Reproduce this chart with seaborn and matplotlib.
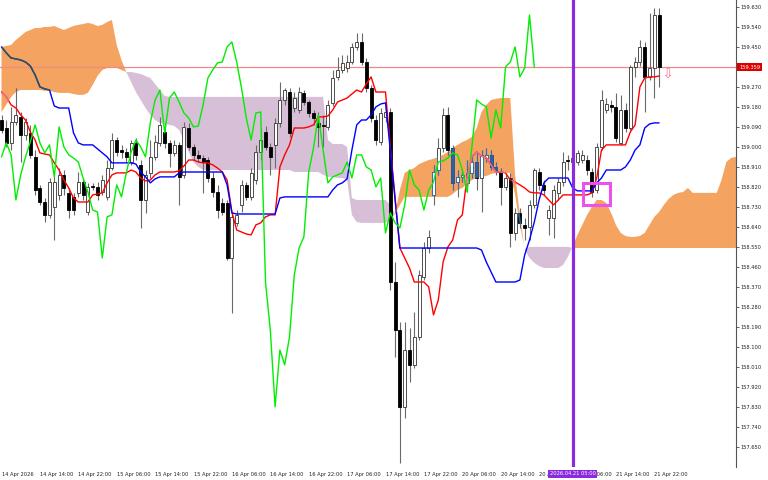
import numpy as np
import matplotlib
matplotlib.use("Agg")
import matplotlib.pyplot as plt
import matplotlib.transforms as mtransforms
from matplotlib.path import Path
from matplotlib.patches import PathPatch, Rectangle
import seaborn as sns

# USDJPY H1 candles, 14 Apr 06:00 -> 21 Apr 23:00 (bar index 0..137)
opens = [159.122, 159.086, 159.019, 159.113, 159.136, 159.055, 159.064, 158.956, 158.816, 158.753,
         158.695, 158.731, 158.785, 158.875, 158.794, 158.776, 158.794, 158.843, 158.708, 158.825,
         158.821, 158.798, 158.776, 158.906, 159.032, 158.987, 158.978, 158.933, 159.019, 158.920,
         158.762, 158.884, 158.956, 159.019, 159.068, 159.019, 158.974, 159.010, 158.875, 159.086,
         159.001, 158.965, 158.951, 158.942, 158.861, 158.798, 158.749, 158.749, 158.501, 158.659,
         158.740, 158.830, 158.776, 158.852, 158.978, 159.068, 159.001, 159.010, 159.109, 159.212,
         159.248, 159.176, 159.167, 159.244, 159.203, 159.154, 159.109, 159.100, 159.091, 159.199,
         159.316, 159.347, 159.356, 159.383, 159.451, 159.473, 159.383, 159.266, 159.122, 159.023,
         159.136, 159.158, 158.393, 158.177, 157.831, 158.087, 158.020, 158.146, 158.416, 158.546,
         158.785, 158.897, 158.996, 159.145, 158.996, 158.843, 158.866, 158.839, 158.884, 158.933,
         158.861, 158.951, 158.965, 158.911, 158.888, 158.821, 158.861, 158.614, 158.704, 158.650,
         158.641, 158.740, 158.888, 158.830, 158.681, 158.681, 158.794, 158.843, 158.942, 158.933,
         158.933, 158.942, 158.942, 158.888, 158.807, 159.001, 159.167, 159.190, 159.181, 159.019,
         159.167, 159.086, 159.361, 159.383, 159.451, 159.316, 159.356, 159.595]
highs = [159.145, 159.122, 159.181, 159.266, 159.158, 159.131, 159.100, 158.987, 158.830, 158.771,
         158.861, 158.875, 158.906, 158.897, 158.816, 158.794, 158.888, 158.861, 158.839, 158.839,
         158.843, 158.875, 158.942, 159.064, 159.046, 159.010, 158.996, 159.032, 159.041, 158.942,
         158.897, 159.032, 159.055, 159.136, 159.109, 159.032, 159.032, 159.023, 159.113, 159.109,
         159.014, 158.987, 158.965, 158.956, 158.888, 158.830, 158.771, 158.762, 158.708, 158.717,
         158.852, 158.843, 158.906, 159.010, 159.086, 159.095, 159.019, 159.131, 159.293, 159.266,
         159.266, 159.248, 159.271, 159.257, 159.212, 159.167, 159.158, 159.145, 159.212, 159.347,
         159.406, 159.415, 159.415, 159.469, 159.514, 159.514, 159.401, 159.280, 159.145, 159.176,
         159.185, 159.176, 158.483, 158.213, 158.213, 158.186, 158.258, 158.447, 158.573, 158.627,
         158.920, 159.041, 159.176, 159.181, 159.010, 158.897, 158.897, 158.942, 158.965, 158.974,
         158.987, 158.996, 158.987, 158.933, 158.906, 158.879, 158.884, 158.726, 158.726, 158.681,
         158.762, 158.906, 158.906, 158.852, 158.740, 158.830, 158.861, 158.978, 158.965, 158.974,
         158.987, 158.987, 158.965, 158.906, 159.019, 159.257, 159.221, 159.212, 159.244, 159.235,
         159.199, 159.370, 159.406, 159.482, 159.473, 159.604, 159.626, 159.626]
lows = [159.064, 159.001, 158.987, 159.100, 158.933, 159.032, 158.951, 158.785, 158.740, 158.663,
        158.681, 158.582, 158.762, 158.785, 158.681, 158.695, 158.776, 158.762, 158.695, 158.807,
        158.762, 158.785, 158.762, 158.897, 158.960, 158.951, 158.933, 158.920, 158.942, 158.636,
        158.704, 158.861, 158.942, 159.005, 158.996, 158.911, 158.960, 158.740, 158.861, 158.987,
        158.942, 158.933, 158.794, 158.843, 158.776, 158.681, 158.695, 158.492, 158.254, 158.645,
        158.708, 158.762, 158.762, 158.834, 158.942, 158.987, 158.875, 158.906, 159.091, 159.190,
        159.046, 159.158, 159.154, 159.190, 159.136, 159.100, 159.001, 159.001, 159.077, 159.185,
        159.302, 159.334, 159.338, 159.374, 159.437, 159.370, 159.248, 159.113, 159.010, 159.010,
        159.113, 158.357, 158.056, 157.579, 157.781, 157.943, 158.006, 158.132, 158.402, 158.524,
        158.740, 158.875, 158.978, 158.965, 158.807, 158.776, 158.843, 158.798, 158.861, 158.807,
        158.708, 158.933, 158.897, 158.875, 158.740, 158.807, 158.551, 158.582, 158.636, 158.582,
        158.582, 158.726, 158.807, 158.785, 158.605, 158.591, 158.762, 158.825, 158.897, 158.906,
        158.920, 158.929, 158.875, 158.776, 158.794, 158.987, 159.154, 159.158, 159.023, 159.010,
        159.068, 159.077, 159.316, 159.365, 159.158, 159.302, 159.221, 159.271]
closes = [159.077, 159.019, 159.113, 159.145, 159.055, 159.113, 158.965, 158.807, 158.753, 158.695,
          158.843, 158.843, 158.875, 158.816, 158.717, 158.717, 158.843, 158.785, 158.821, 158.821,
          158.785, 158.852, 158.906, 159.032, 158.978, 158.978, 158.956, 159.019, 158.965, 158.762,
          158.875, 158.956, 159.023, 159.100, 159.019, 158.974, 159.010, 158.866, 159.091, 159.001,
          158.965, 158.951, 158.933, 158.861, 158.798, 158.717, 158.708, 158.501, 158.686, 158.695,
          158.830, 158.776, 158.884, 158.978, 159.032, 159.001, 158.956, 159.109, 159.212, 159.257,
          159.064, 159.221, 159.248, 159.203, 159.154, 159.131, 159.091, 159.095, 159.190, 159.311,
          159.347, 159.379, 159.383, 159.451, 159.473, 159.383, 159.266, 159.131, 159.032, 159.154,
          159.158, 158.393, 158.177, 157.831, 158.087, 158.020, 158.146, 158.425, 158.546, 158.596,
          158.888, 158.996, 159.145, 158.987, 158.839, 158.866, 158.875, 158.884, 158.933, 158.861,
          158.965, 158.965, 158.911, 158.897, 158.821, 158.861, 158.614, 158.704, 158.659, 158.636,
          158.740, 158.897, 158.830, 158.807, 158.717, 158.807, 158.843, 158.933, 158.938, 158.951,
          158.974, 158.965, 158.897, 158.798, 159.001, 159.212, 159.194, 159.181, 159.041, 159.167,
          159.086, 159.361, 159.383, 159.451, 159.316, 159.356, 159.595, 159.359]

# Ichimoku lines
tenkan = [159.248, 159.226, 159.190, 159.176, 159.145, 159.122, 159.068, 159.032, 158.974, 158.969,
          158.965, 158.929, 158.897, 158.852, 158.816, 158.771, 158.753, 158.753, 158.753, 158.785,
          158.789, 158.794, 158.839, 158.875, 158.884, 158.884, 158.884, 158.897, 158.888, 158.861,
          158.848, 158.852, 158.875, 158.888, 158.888, 158.888, 158.888, 158.893, 158.915, 158.942,
          158.942, 158.933, 158.929, 158.929, 158.920, 158.906, 158.888, 158.852, 158.708, 158.627,
          158.618, 158.609, 158.605, 158.650, 158.659, 158.686, 158.695, 158.695, 158.911, 158.965,
          159.010, 159.086, 159.086, 159.086, 159.091, 159.100, 159.136, 159.136, 159.140, 159.167,
          159.203, 159.212, 159.221, 159.239, 159.257, 159.248, 159.284, 159.316, 159.248, 159.248,
          159.248, 159.001, 158.771, 158.546, 158.501, 158.456, 158.393, 158.393, 158.393, 158.371,
          158.245, 158.312, 158.483, 158.551, 158.582, 158.672, 158.695, 158.866, 158.956, 158.978,
          158.960, 158.951, 158.920, 158.888, 158.888, 158.884, 158.852, 158.843, 158.830, 158.816,
          158.798, 158.794, 158.794, 158.785, 158.762, 158.740, 158.762, 158.785, 158.785, 158.785,
          158.785, 158.785, 158.785, 158.794, 158.861, 158.987, 159.010, 159.010, 159.010, 159.010,
          159.010, 159.068, 159.100, 159.271, 159.311, 159.316, 159.316, 159.320]
kijun = [159.451, 159.424, 159.401, 159.397, 159.392, 159.383, 159.365, 159.325, 159.271, 159.262,
         159.257, 159.185, 159.176, 159.176, 159.176, 159.064, 159.019, 159.010, 159.010, 159.010,
         158.992, 158.974, 158.956, 158.929, 158.929, 158.929, 158.929, 158.929, 158.924, 158.888,
         158.866, 158.839, 158.857, 158.866, 158.866, 158.866, 158.866, 158.884, 158.888, 158.888,
         158.888, 158.888, 158.888, 158.888, 158.888, 158.888, 158.888, 158.830, 158.704, 158.699,
         158.699, 158.699, 158.699, 158.699, 158.699, 158.699, 158.699, 158.699, 158.771, 158.776,
         158.776, 158.776, 158.776, 158.776, 158.776, 158.776, 158.776, 158.776, 158.776, 158.807,
         158.830, 158.839, 158.857, 158.987, 159.100, 159.122, 159.122, 159.145, 159.181, 159.194,
         159.199, 158.987, 158.762, 158.546, 158.546, 158.546, 158.546, 158.546, 158.546, 158.546,
         158.546, 158.546, 158.546, 158.546, 158.546, 158.546, 158.546, 158.546, 158.546, 158.546,
         158.537, 158.483, 158.438, 158.393, 158.393, 158.393, 158.393, 158.393, 158.402, 158.515,
         158.582, 158.663, 158.762, 158.839, 158.861, 158.861, 158.861, 158.861, 158.861, 158.816,
         158.803, 158.803, 158.803, 158.803, 158.839, 158.861, 158.897, 158.897, 158.897, 158.897,
         158.911, 158.942, 158.987, 159.010, 159.086, 159.104, 159.109, 159.109]
# senkou spans, already shifted 26 bars forward (bar index 0..154)
span_a = [159.451, 159.455, 159.460, 159.482, 159.500, 159.518, 159.527, 159.536, 159.536, 159.541,
          159.541, 159.545, 159.536, 159.527, 159.536, 159.545, 159.550, 159.554, 159.559, 159.554,
          159.545, 159.550, 159.563, 159.572, 159.460, 159.392, 159.338, 159.293, 159.248, 159.212,
          159.176, 159.145, 159.122, 159.109, 159.104, 159.100, 159.095, 159.077, 159.032, 158.978,
          158.933, 158.911, 158.897, 158.897, 158.897, 158.897, 158.897, 158.897, 158.897, 158.897,
          158.897, 158.897, 158.897, 158.897, 158.897, 158.897, 158.897, 158.897, 158.897, 158.897,
          158.897, 158.888, 158.888, 158.888, 158.888, 158.888, 158.888, 158.875, 158.866, 158.866,
          158.861, 158.861, 158.852, 158.695, 158.663, 158.659, 158.659, 158.659, 158.659, 158.659,
          158.659, 158.672, 158.699, 158.807, 158.884, 158.897, 158.906, 158.924, 158.933, 158.942,
          158.947, 158.956, 158.965, 158.978, 158.996, 159.010, 159.023, 159.032, 159.046, 159.086,
          159.158, 159.190, 159.212, 159.217, 159.221, 159.221, 159.221, 158.875, 158.695, 158.537,
          158.501, 158.479, 158.465, 158.456, 158.456, 158.456, 158.456, 158.470, 158.506, 158.555,
          158.605, 158.650, 158.695, 158.731, 158.762, 158.762, 158.749, 158.704, 158.650, 158.614,
          158.600, 158.596, 158.596, 158.600, 158.614, 158.650, 158.686, 158.708, 158.740, 158.767,
          158.785, 158.794, 158.798, 158.816, 158.794, 158.794, 158.794, 158.794, 158.794, 158.794,
          158.852, 158.933, 158.951, 158.956, 158.956]
span_b = [159.158, 159.190, 159.226, 159.248, 159.257, 159.257, 159.257, 159.257, 159.257, 159.253,
          159.253, 159.248, 159.244, 159.244, 159.244, 159.239, 159.235, 159.235, 159.244, 159.280,
          159.320, 159.347, 159.356, 159.361, 159.356, 159.347, 159.338, 159.338, 159.334, 159.329,
          159.320, 159.311, 159.284, 159.257, 159.230] + [159.226] * 33 + [
          159.032, 159.014, 159.014, 159.014, 159.001, 158.771, 158.762, 158.762, 158.762, 158.762,
          158.762, 158.762, 158.762, 158.740, 158.699, 158.740, 158.776, 158.776, 158.776, 158.776,
          158.776, 158.776, 158.776, 158.776, 158.776, 158.776, 158.789, 158.807, 158.816, 158.834,
          158.852, 158.861, 158.866, 158.870, 158.879, 158.884, 158.884, 158.884, 158.884, 158.785,
          158.650, 158.542] + [158.551] * 9 + [158.546] * 36

y_ticks = [159.630, 159.540, 159.450, 159.270, 159.180, 159.090, 159.000, 158.910, 158.820, 158.730,
           158.640, 158.550, 158.460, 158.370, 158.280, 158.190, 158.100, 158.010, 157.920, 157.830,
           157.740, 157.650]
x_ticks = [0, 8, 16, 24, 32, 40, 48, 56, 64, 72, 80, 88, 96, 104, 112, 120, 128, 136]
x_labels = ['14 Apr 2026', '14 Apr 14:00', '14 Apr 22:00', '15 Apr 06:00', '15 Apr 14:00',
            '15 Apr 22:00', '16 Apr 06:00', '16 Apr 14:00', '16 Apr 22:00', '17 Apr 06:00',
            '17 Apr 14:00', '17 Apr 22:00', '20 Apr 06:00', '20 Apr 14:00', '20 Apr 22:00',
            '21 Apr 06:00', '21 Apr 14:00', '21 Apr 22:00']
last_price = 159.359
marker_bar = 119
marker_label = '2026.04.21 05:00'
box_bars = (121.15, 126.77)
box_prices = (158.740, 158.839)
arrow_bar, arrow_price = 138.9, 159.324

sns.set_style("white")
plt.rcParams['font.family'] = ['DejaVu Sans']

fig = plt.figure(figsize=(7.68, 4.8), dpi=100)
ax = fig.add_axes([0, 13 / 480, 736 / 768, 467 / 480])

o, h, l, c = (np.array(v) for v in (opens, highs, lows, closes))
bars = np.arange(len(c))
a = np.array(span_a)
b = np.array(span_b)
span_x = np.arange(len(a))

# kumo
kumo_up = ax.fill_between(span_x, a, b, where=a >= b, interpolate=True,
                          color='#f4a460', lw=0, zorder=1)
ax.fill_between(span_x, a, b, where=a <= b, interpolate=True,
                color='#d8bfd8', lw=0, zorder=1)
ax.axhline(last_price, color='#f08888', lw=0.9, zorder=1.5)

# candles
up = c >= o
lo = np.minimum(o, c)
hh = np.maximum(np.abs(c - o), 0.005)
ax.vlines(bars, l, h, color='#6a6a6a', lw=0.8, zorder=2)
ax.bar(bars[up], hh[up], bottom=lo[up], width=0.62, color='white',
       edgecolor='#333333', linewidth=0.6, zorder=3)
ax.bar(bars[~up], hh[~up], bottom=lo[~up], width=0.62, color='black',
       edgecolor='black', linewidth=0.6, zorder=3)

# things inside the orange cloud change colour in the terminal
clip = PathPatch(Path.make_compound_path(*kumo_up.get_paths()),
                 transform=ax.transData, fc='none', ec='none')
w = ax.vlines(bars, l, h, color='#3b6fb0', lw=0.8, zorder=2)
w.set_clip_path(clip)
for r in ax.bar(bars[up], hh[up], bottom=lo[up], width=0.62, color='white',
                edgecolor='#2a62a8', linewidth=0.6, zorder=3):
    r.set_clip_path(clip)
for r in ax.bar(bars[~up], hh[~up], bottom=lo[~up], width=0.62, color='#2a62a8',
                edgecolor='#2a62a8', linewidth=0.6, zorder=3):
    r.set_clip_path(clip)

# tenkan / kijun / chikou
sns.lineplot(x=bars, y=np.array(tenkan), color='#ff0000', linewidth=1.0, ax=ax, zorder=5)
sns.lineplot(x=bars, y=np.array(kijun), color='#0000ff', linewidth=1.0, ax=ax, zorder=5)
sns.lineplot(x=bars[:len(c) - 26], y=c[26:], color='#00ee00', linewidth=1.0, ax=ax, zorder=5)
t2, = ax.plot(bars, tenkan, color='#ee6f9a', lw=1.0, zorder=5.1)
t2.set_clip_path(clip)
k2, = ax.plot(bars, kijun, color='#2d5a4c', lw=1.0, zorder=5.1)
k2.set_clip_path(clip)

# objects
ax.axvline(marker_bar, color='#8a2be2', lw=2.3, zorder=6)
ax.add_patch(Rectangle((box_bars[0], box_prices[0]), box_bars[1] - box_bars[0],
                       box_prices[1] - box_prices[0], fill=False,
                       edgecolor='#ee50ee', lw=2.2, zorder=7))
ax.text(arrow_bar, arrow_price, '\u21e9', color='#ff6680', fontsize=9,
        ha='center', va='center', zorder=8)

ax.set_xlim(-0.3125, 153.02)
ax.set_ylim(157.5605, 159.662)

# axes
ax.yaxis.tick_right()
ax.set_yticks(y_ticks)
ax.set_yticklabels([f"{v:.3f}" for v in y_ticks])
ax.tick_params(axis='y', length=2.5, width=0.6, color='#444444', labelsize=3.7,
               labelcolor='#222222', pad=1)
ax.set_xticks(x_ticks, labels=x_labels)
for t in ax.get_xticklabels():
    t.set_ha('left')
ax.tick_params(axis='x', length=2.5, width=0.6, color='#444444', labelsize=3.7,
               labelcolor='#222222', pad=0.8)
for s in ['left', 'top', 'bottom']:
    ax.spines[s].set_visible(False)
ax.spines['right'].set_color('#555555')
ax.spines['right'].set_linewidth(0.8)
ax.set_xlabel('')
ax.set_ylabel('')

ty = mtransforms.blended_transform_factory(ax.transAxes, ax.transData)
ax.text(1.004, last_price, f"{last_price:.3f}", transform=ty, fontsize=3.7, color='white',
        ha='left', va='center', clip_on=False, zorder=10,
        bbox=dict(boxstyle='square,pad=0.3', fc='#dd0000', ec='none'))
tx = mtransforms.blended_transform_factory(ax.transData, ax.transAxes)
ax.text(marker_bar, -0.0145, marker_label, transform=tx, fontsize=3.7, color='white',
        ha='center', va='center', clip_on=False, zorder=10,
        bbox=dict(boxstyle='square,pad=0.3', fc='#8a2be2', ec='none'))

fig.savefig('out.png', dpi=100)
